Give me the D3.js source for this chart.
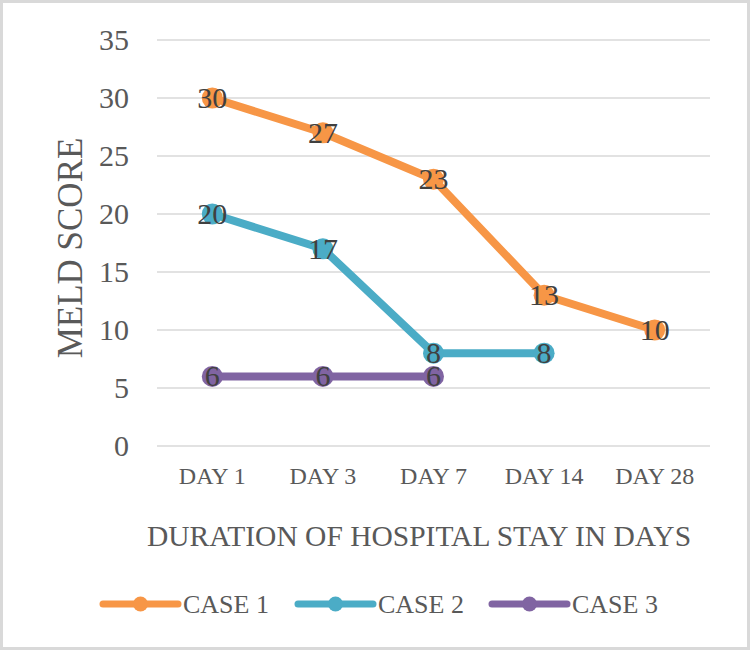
<!DOCTYPE html>
<html><head><meta charset="utf-8">
<script src="https://cdn.jsdelivr.net/npm/d3@7"></script>
<style>html,body{margin:0;padding:0;background:#fff}</style>
</head><body>
<svg id="c" width="750" height="650"></svg>
<script>
const categories = ["DAY 1","DAY 3","DAY 7","DAY 14","DAY 28"];
const case1 = [30,27,23,13,10];
const case2 = [20,17,8,8,null];
const case3 = [6,6,6,null,null];
const seriesNames = ["CASE 1","CASE 2","CASE 3"];
const seriesColors = ["#F79646","#4BACC6","#8064A2"];
const yTicks = [0,5,10,15,20,25,30,35];

(function(){
const series = [case1,case2,case3].map((v,i)=>({name:seriesNames[i],color:seriesColors[i],values:v}));
const font = "'Liberation Serif','Times New Roman',serif";
const svg = d3.select("#c");
svg.append("rect").attr("x",1.5).attr("y",1.5).attr("width",747).attr("height",647)
  .attr("fill","#fff").attr("stroke","#d9d9d9").attr("stroke-width",3);

const pl=157,pr=710,pt=40,pb=446;
const x = d3.scaleBand().domain(categories).range([pl,pr]);
const y = d3.scaleLinear().domain([0,35]).range([pb,pt]);

svg.append("g").selectAll("line").data(yTicks).join("line")
  .attr("x1",pl).attr("x2",pr).attr("y1",d=>y(d)).attr("y2",d=>y(d))
  .attr("stroke","#d9d9d9").attr("stroke-width",1.5);

const yAxis = d3.axisLeft(y).tickValues(yTicks).tickSize(0).tickPadding(28);
const ya = svg.append("g").attr("transform",`translate(${pl},0)`).call(yAxis);
ya.select(".domain").remove();
ya.selectAll("text").attr("font-family",font).attr("font-size",30).attr("fill","#595959");

const xAxis = d3.axisBottom(x).tickSize(0).tickPadding(21);
const xa = svg.append("g").attr("transform",`translate(0,${pb})`).call(xAxis);
xa.select(".domain").remove();
xa.selectAll("text").attr("font-family",font).attr("font-size",24).attr("fill","#595959");

svg.append("text").attr("transform","translate(82,248) rotate(-90)").attr("text-anchor","middle")
  .attr("font-family",font).attr("font-size",35).attr("fill","#595959").text("MELD SCORE");
svg.append("text").attr("x",419).attr("y",546).attr("text-anchor","middle")
  .attr("font-family",font).attr("font-size",29.5).attr("fill","#595959").text("DURATION OF HOSPITAL STAY IN DAYS");

const line = d3.line().defined(d=>d.v!=null).x(d=>x(d.c)+x.bandwidth()/2).y(d=>y(d.v));
series.forEach(s=>{
  const pts = s.values.map((v,i)=>({c:categories[i],v}));
  svg.append("path").attr("d",line(pts)).attr("fill","none").attr("stroke",s.color)
    .attr("stroke-width",8).attr("stroke-linejoin","round");
  const valid = pts.filter(d=>d.v!=null);
  svg.append("g").selectAll("circle").data(valid).join("circle")
    .attr("cx",d=>x(d.c)+x.bandwidth()/2).attr("cy",d=>y(d.v)).attr("r",10.5).attr("fill",s.color);
  svg.append("g").selectAll("text").data(valid).join("text")
    .attr("x",d=>x(d.c)+x.bandwidth()/2).attr("y",d=>y(d.v)+10).attr("text-anchor","middle")
    .attr("font-family",font).attr("font-size",30).attr("fill","#404040").text(d=>d.v);
});

const legX=[103,298,492];
series.forEach((s,i)=>{
  const lg = svg.append("g").attr("transform",`translate(${legX[i]},604)`);
  lg.append("line").attr("x1",0).attr("x2",75).attr("stroke",s.color).attr("stroke-width",7).attr("stroke-linecap","round");
  lg.append("circle").attr("cx",37.5).attr("r",7.5).attr("fill",s.color);
  lg.append("text").attr("x",80).attr("y",8.5).attr("font-family",font).attr("font-size",26).attr("fill","#595959").text(s.name);
});
})();
</script>
</body></html>
